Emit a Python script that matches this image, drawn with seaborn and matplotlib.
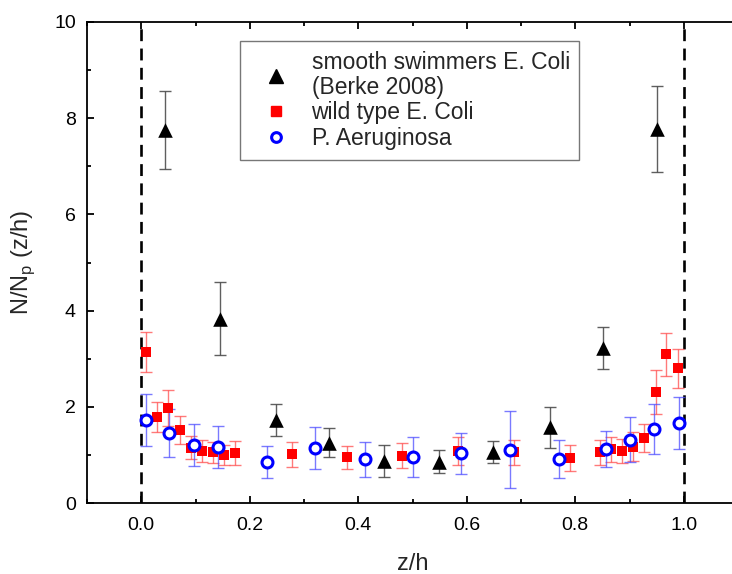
import matplotlib
matplotlib.use("Agg")
import matplotlib.pyplot as plt
import seaborn as sns
import numpy as np
import pandas as pd
from matplotlib.lines import Line2D
from matplotlib.ticker import MultipleLocator

# smooth swimmers E. Coli (Berke 2008)
smooth_x = [0.043, 0.145, 0.249, 0.347, 0.447, 0.548, 0.648, 0.753, 0.851, 0.951]
smooth_y = [7.75, 3.83, 1.73, 1.25, 0.88, 0.86, 1.06, 1.57, 3.22, 7.78]
smooth_err = [0.81, 0.76, 0.33, 0.30, 0.33, 0.24, 0.22, 0.43, 0.43, 0.89]

# wild type E. Coli
wild_x = [0.009, 0.029, 0.050, 0.071, 0.091, 0.112, 0.132, 0.152, 0.173, 0.277,
          0.379, 0.481, 0.584, 0.687, 0.790, 0.845, 0.865, 0.886, 0.907, 0.927,
          0.948, 0.968, 0.990]
wild_y = [3.14, 1.78, 1.97, 1.51, 1.15, 1.08, 1.05, 1.00, 1.03, 1.01,
          0.95, 0.98, 1.08, 1.05, 0.94, 1.05, 1.12, 1.08, 1.17, 1.35,
          2.31, 3.09, 2.80]
wild_err = [0.42, 0.31, 0.37, 0.29, 0.24, 0.22, 0.22, 0.20, 0.25, 0.26,
            0.24, 0.26, 0.29, 0.27, 0.27, 0.26, 0.26, 0.25, 0.30, 0.29,
            0.46, 0.45, 0.41]

# P. Aeruginosa
pa_x = [0.008, 0.052, 0.097, 0.141, 0.232, 0.321, 0.412, 0.501, 0.590, 0.679,
        0.770, 0.856, 0.900, 0.945, 0.991]
pa_y = [1.72, 1.45, 1.20, 1.16, 0.85, 1.14, 0.91, 0.96, 1.03, 1.11,
        0.91, 1.12, 1.32, 1.54, 1.66]
pa_err = [0.54, 0.50, 0.44, 0.44, 0.34, 0.43, 0.36, 0.42, 0.43, 0.80,
          0.39, 0.38, 0.46, 0.52, 0.54]

labels = ["smooth swimmers E. Coli\n(Berke 2008)", "wild type E. Coli", "P. Aeruginosa"]

sns.set_theme(style="ticks")
plt.rcParams['font.family'] = ['Liberation Sans', 'DejaVu Sans']

fig = plt.figure(figsize=(7.32, 5.74), dpi=100)
ax = fig.add_axes([87/732, 71/574, 651/732, 481/574])

df_w = pd.DataFrame({"x": wild_x, "y": wild_y})
df_p = pd.DataFrame({"x": pa_x, "y": pa_y})
df_s = pd.DataFrame({"x": smooth_x, "y": smooth_y})

# error bars
ax.errorbar(wild_x, wild_y, yerr=wild_err, fmt="none", ecolor=(1, 0.3, 0.3, 0.75),
            elinewidth=1.0, capsize=4, capthick=1.0, zorder=2)
ax.errorbar(pa_x, pa_y, yerr=pa_err, fmt="none", ecolor=(0.3, 0.3, 1, 0.75),
            elinewidth=1.0, capsize=4, capthick=1.0, zorder=3)
ax.errorbar(smooth_x, smooth_y, yerr=smooth_err, fmt="none", ecolor=(0.3, 0.3, 0.3, 0.9),
            elinewidth=1.0, capsize=4, capthick=1.0, zorder=4)

sns.scatterplot(data=df_w, x="x", y="y", ax=ax, marker="s", s=58, color="#ff0000",
                edgecolor="#ff0000", linewidth=0, zorder=5, legend=False)
sns.scatterplot(data=df_p, x="x", y="y", ax=ax, marker="o", s=62, facecolor="white",
                edgecolor="#0000ff", linewidth=2.2, zorder=6, legend=False)
sns.scatterplot(data=df_s, x="x", y="y", ax=ax, marker="^", s=110, color="black",
                edgecolor="black", linewidth=0, zorder=7, legend=False)

# dashed boundaries
for xv in (0.0, 1.0):
    ax.axvline(xv, color="black", lw=1.9, linestyle=(0, (4.5, 2.8)), zorder=1)

ax.set_xlim(-0.1, 1.1)
ax.set_ylim(0, 10)
ax.xaxis.set_major_locator(MultipleLocator(0.2))
ax.xaxis.set_minor_locator(MultipleLocator(0.1))
ax.yaxis.set_major_locator(MultipleLocator(2))
ax.yaxis.set_minor_locator(MultipleLocator(1))
ax.set_xticks([0.0, 0.2, 0.4, 0.6, 0.8, 1.0])
ax.set_xticklabels(["0.0", "0.2", "0.4", "0.6", "0.8", "1.0"])
ax.set_yticks([0, 2, 4, 6, 8, 10])
ax.set_yticklabels(["0", "2", "4", "6", "8", "10"])
ax.tick_params(which="both", direction="in", top=True, right=False, width=1.3, colors="black",
               labelsize=14)
ax.tick_params(which="major", length=5)
ax.tick_params(axis="x", which="major", pad=10)
ax.tick_params(axis="y", which="major", pad=8)
ax.tick_params(which="minor", length=3)
for sp in ax.spines.values():
    sp.set_linewidth(1.3)
    sp.set_color("black")

ax.set_xlabel("z/h", fontsize=17, labelpad=14)
ax.set_ylabel("N/N$_\\mathregular{p}$ (z/h)", fontsize=17, labelpad=12)

handles = [
    Line2D([], [], marker="^", color="black", linestyle="none", markersize=10),
    Line2D([], [], marker="s", color="#ff0000", linestyle="none", markersize=7.5),
    Line2D([], [], marker="o", markerfacecolor="white", markeredgecolor="#0000ff",
           markeredgewidth=2.2, linestyle="none", markersize=7),
]
leg = ax.legend(handles, labels, loc="upper left", bbox_to_anchor=((240 - 87) / 651, (503 - 41) / 481),
                fontsize=16.5, frameon=True, fancybox=False, edgecolor="#555555",
                borderpad=0.42, labelspacing=0.12, handlelength=2.3, handletextpad=0.4,
                borderaxespad=0)
for t in leg.get_texts():
    t.set_linespacing(1.11)
leg.get_frame().set_linewidth(1.0)

fig.savefig("out.png", dpi=100)
